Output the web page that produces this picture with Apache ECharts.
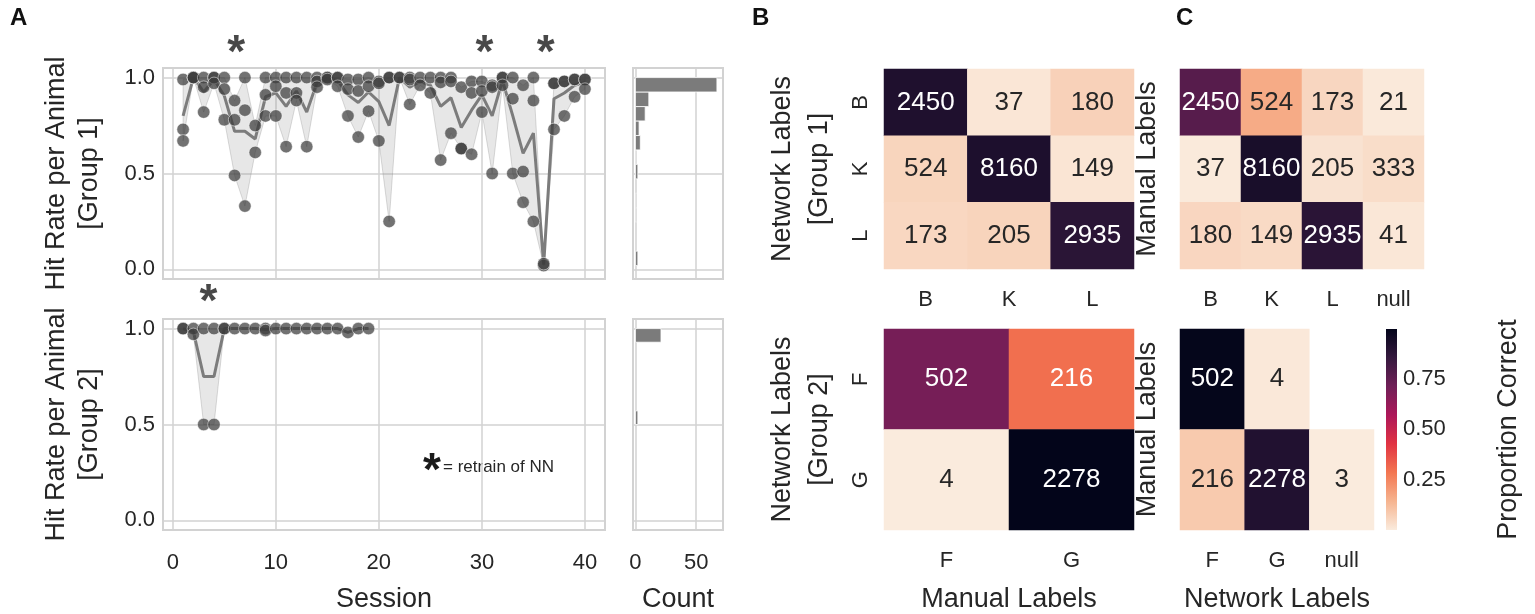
<!DOCTYPE html>
<html><head><meta charset="utf-8">
<script src="https://cdn.jsdelivr.net/npm/echarts@6/dist/echarts.min.js"></script>
<style>html,body{margin:0;padding:0;background:#fff}#c{width:1535px;height:614px}</style>
</head><body><div id="c"></div>
<script>
// ---------- DATA ----------
const sessionsTop = [1,2,3,4,5,6,7,8,9,10,11,12,13,14,15,16,17,18,19,20,21,22,23,24,25,26,27,28,29,30,31,32,33,34,35,36,37,38,39,40];
const hitTop = [
 [0.99,0.73,0.67],[1,1,1],[1,0.95,0.82],[1,1,0.97],[1,0.94,0.78],
 [0.88,0.78,0.49],[1,0.83,0.33],[0.75,0.61],[1,0.91,0.80],[1,0.955,0.80],
 [1,0.92,0.64],[1,0.92,0.88],[1,0.64],[1,0.98,0.95],[1,1,0.99],
 [1,1,0.955],[0.99,0.94,0.80],[0.99,0.93,0.69],[1,0.955,0.825],[0.98,0.97,0.67],
 [1,1,0.25],[1,1],[1,0.99,0.86],[1,0.96],[1,0.92],
 [1,0.975,0.57],[1,0.98,0.71],[0.95,0.63,0.63],[0.98,0.92,0.60],[0.98,0.93,0.82],
 [0.96,0.95,0.50],[1,1,0.96],[1,0.89,0.50],[0.96,0.51,0.35],[1,0.88,0.25],
 [0.02,0.03],[0.97,0.97,0.73],[0.98,0.98,0.80],[0.99,0.99,0.90],[0.99,0.99,0.94]
];
const meanTop = [0.80,1.0,0.925,0.99,0.905,0.72,0.72,0.68,0.90,0.92,0.85,0.93,0.82,0.975,0.995,0.985,0.91,0.87,0.925,0.875,
 0.75,1.0,0.95,0.98,0.96,0.85,0.895,0.74,0.83,0.91,0.80,0.985,0.80,0.605,0.71,0.025,0.89,0.92,0.96,0.975];
const sessionsBottom = [1,2,3,4,5,6,7,8,9,10,11,12,13,14,15,16,17,18,19];
const hitBottom = [[1,1],[1,0.97],[1,0.5],[1,0.5],[1,1],[1],[1],[1],[1,0.99],[1],[1],[1],[1],[1],[1],[1],[0.98],[1],[1]];
const meanBottom = [1,0.985,0.75,0.75,1,1,1,1,0.995,1,1,1,1,1,1,1,0.98,1,1];
const starsTop = [6.15, 30.25, 36.2];
const starsBottom = [3.46];

const histTopLow  = [0.020,0.095,0.171,0.246,0.322,0.397,0.472,0.548,0.623,0.698,0.774,0.849,0.925];
const histTopHigh = [0.095,0.171,0.246,0.322,0.397,0.472,0.548,0.623,0.698,0.774,0.849,0.925,1.000];
const histTopCount = [2,0,0,1,1,0,2,1,4,3,8,11,67];
const histBotLow  = [0.500,0.571,0.643,0.714,0.786,0.857,0.929];
const histBotHigh = [0.571,0.643,0.714,0.786,0.857,0.929,1.000];
const histBotCount = [2,0,0,0,0,0,21];

const sessionTicks = [0,10,20,30,40];
const hitTicks = [0,0.5,1.0];
const countTicks = [0,50];
const cbarTicks = [0.25,0.5,0.75];

const catB1x = ['B','K','L'], catB1y = ['B','K','L'];
const countsB1 = [[2450,37,180],[524,8160,149],[173,205,2935]];
const catC1x = ['B','K','L','null'], catC1y = ['B','K','L'];
const countsC1 = [[2450,524,173,21],[37,8160,205,333],[180,149,2935,41]];
const catB2x = ['F','G'], catB2y = ['F','G'];
const countsB2 = [[502,216],[4,2278]];
const catC2x = ['F','G','null'], catC2y = ['F','G'];
const countsC2 = [[502,4,null],[216,2278,3]];

const rocketR = ['#FAEBDD','#F6B48F','#F37651','#E13342','#AD1759','#701F57','#35193E','#03051A'];
const propMin = 0.0012, propMax = 0.998;

// ---------- BUILD ----------
const FONT = "'Liberation Sans', Arial, Helvetica, sans-serif";
const TXT = '#262626';
const GRIDC = '#d2d2d2';
const TICK = 22, TITLE = 27, ANNOT = 26;

function flat(sessions, hits){ const out=[]; sessions.forEach((s,i)=>hits[i].forEach(v=>out.push([s,v]))); return out; }

function bandSeries(ai, sessions, hits){
  const lows = hits.map(a=>Math.min.apply(null,a)), highs = hits.map(a=>Math.max.apply(null,a));
  return {type:'custom', xAxisIndex:ai, yAxisIndex:ai, silent:true, z:1,
    data: sessions.map((s,i)=>[s,lows[i],highs[i]]), encode:{x:0,y:[1,2]},
    renderItem(params, api){
      if(params.dataIndex!==0) return null;
      const up = sessions.map((s,i)=>api.coord([s,highs[i]]));
      const dn = sessions.map((s,i)=>api.coord([s,lows[i]])).reverse();
      return {type:'polygon', shape:{points:up.concat(dn)},
        style:{fill:'rgba(135,135,135,0.2)', stroke:'rgba(135,135,135,0.3)', lineWidth:1}};
    }};
}
function lineSeries(ai, sessions, mean){
  return {type:'line', xAxisIndex:ai, yAxisIndex:ai, data: sessions.map((s,i)=>[s,mean[i]]),
    symbol:'none', silent:true, z:3, lineStyle:{color:'#7c7c7c', width:3}};
}
function scatterSeries(ai, sessions, hits){
  return {type:'scatter', xAxisIndex:ai, yAxisIndex:ai, data: flat(sessions,hits), symbolSize:12.5, clip:false, silent:true, z:4,
    itemStyle:{color:'#3c3c3c', opacity:0.72, borderColor:'#ffffff', borderWidth:0.7}};
}
function starSeries(ai, xs, y){
  return {type:'scatter', xAxisIndex:ai, yAxisIndex:ai, data: xs.map(x=>[x,y]), symbolSize:2, clip:false, silent:true, z:5,
    itemStyle:{color:'rgba(0,0,0,0)'},
    label:{show:true, position:'inside', formatter:'*', fontSize:46, fontWeight:'bold', color:'#1a1a1a', fontFamily:FONT}};
}
function histSeries(ai, lo, hi, counts){
  return {type:'custom', xAxisIndex:ai, yAxisIndex:ai, silent:true, z:2,
    data: counts.map((c,i)=>[lo[i],hi[i],c]), encode:{x:2,y:[0,1]},
    renderItem(params, api){
      if(!api.value(2)) return null;
      const a = api.coord([0, api.value(1)]), b = api.coord([api.value(2), api.value(0)]);
      return {type:'rect', shape:{x:a[0], y:a[1], width:b[0]-a[0], height:b[1]-a[1]},
        style:{fill:'#7b7b7b', stroke:'#ffffff', lineWidth:0.8}};
    }};
}
function heatSeries(ai, counts){
  const data = [];
  counts.forEach((row,r)=>{
    const tot = row.reduce((s,v)=>s+(v==null?0:v),0);
    row.forEach((v,c)=>{
      if(v==null) return;
      const p = v/tot;
      data.push({value:[c,r,p,v], label:{color: p>0.25 ? '#ffffff' : TXT}});
    });
  });
  return {type:'heatmap', xAxisIndex:ai, yAxisIndex:ai, data, silent:true,
    label:{show:true, fontSize:ANNOT, fontFamily:FONT, formatter:p=>String(p.data.value[3])},
    itemStyle:{borderWidth:0}, emphasis:{disabled:true}};
}

const gridBox = {show:true, borderColor:GRIDC, borderWidth:2, backgroundColor:'#fff'};
const hidden = {show:false};
function valX(gi, min, max, ticks, labels, name){
  return {type:'value', gridIndex:gi, min, max,
    axisLine:hidden, axisTick:{show:false, customValues:ticks},
    axisLabel:{show:labels, customValues:ticks, fontSize:TICK, color:TXT, margin:22, fontFamily:FONT},
    splitLine:{show:true, lineStyle:{color:GRIDC, width:1.5}},
    name: name||'', nameLocation:'middle', nameGap:56, nameTextStyle:{fontSize:TITLE, color:TXT, fontFamily:FONT}};
}
function valY(gi, labels, name){
  return {type:'value', gridIndex:gi, min:-0.05, max:1.05,
    axisLine:hidden, axisTick:{show:false, customValues:hitTicks},
    axisLabel:{show:labels, customValues:hitTicks, fontSize:TICK, color:TXT, margin:8, fontFamily:FONT, formatter:v=>v.toFixed(1)},
    splitLine:{show:true, lineStyle:{color:GRIDC, width:1.5}},
    name: name||'', nameLocation:'middle', nameRotate:90, nameGap:57,
    nameTextStyle:{fontSize:TITLE, color:TXT, lineHeight:33, fontFamily:FONT}};
}
function catX(gi, cats, name){
  return {type:'category', gridIndex:gi, data:cats, axisLine:hidden, axisTick:hidden, splitLine:hidden,
    axisLabel:{fontSize:TICK, color:TXT, margin:20, fontFamily:FONT},
    name:name||'', nameLocation:'middle', nameGap:56, nameTextStyle:{fontSize:TITLE, color:TXT, fontFamily:FONT}};
}
function catY(gi, cats, labels, name, gap){
  return {type:'category', gridIndex:gi, data:cats, inverse:true, axisLine:hidden, axisTick:hidden, splitLine:hidden,
    axisLabel:{show:labels, rotate:90, fontSize:TICK, color:TXT, margin:12, fontFamily:FONT},
    name:name||'', nameLocation:'middle', nameRotate:90, nameGap:gap,
    nameTextStyle:{fontSize:TITLE, color:TXT, lineHeight:37, fontFamily:FONT}};
}

const series = [
  bandSeries(0, sessionsTop, hitTop), lineSeries(0, sessionsTop, meanTop), scatterSeries(0, sessionsTop, hitTop), starSeries(0, starsTop, 1.12),
  histSeries(1, histTopLow, histTopHigh, histTopCount),
  bandSeries(2, sessionsBottom, hitBottom), lineSeries(2, sessionsBottom, meanBottom), scatterSeries(2, sessionsBottom, hitBottom), starSeries(2, starsBottom, 1.13),
  histSeries(3, histBotLow, histBotHigh, histBotCount)
];
const hmStart = series.length;
series.push(heatSeries(4, countsB1), heatSeries(5, countsC1), heatSeries(6, countsB2), heatSeries(7, countsC2));
const cbarStops = rocketR.map((c,i)=>({offset:1-i/(rocketR.length-1), color:c}));
series.push({type:'custom', xAxisIndex:8, yAxisIndex:8, silent:true, data:[[0,propMin]],
  renderItem(params, api){
    const a = api.coord([0, propMax]), b = api.coord([1, propMin]);
    return {type:'rect', shape:{x:a[0], y:a[1], width:b[0]-a[0], height:b[1]-a[1]},
      style:{fill:new echarts.graphic.LinearGradient(0,0,0,1,cbarStops.slice().reverse())}};
  }});

const option = {
  animation:false,
  textStyle:{fontFamily:FONT},
  grid:[
    Object.assign({left:163, top:68, width:442, height:211}, gridBox),
    Object.assign({left:633, top:68, width:90, height:211}, gridBox),
    Object.assign({left:163, top:319, width:442, height:212}, gridBox),
    Object.assign({left:633, top:319, width:90, height:212}, gridBox),
    {left:884, top:69, width:250, height:200},
    {left:1180, top:69, width:244, height:200},
    {left:884, top:329, width:250, height:201},
    {left:1180, top:329, width:194, height:201},
    {left:1386, top:329, width:11, height:201}
  ],
  xAxis:[
    valX(0, -0.95, 41.95, sessionTicks, false),
    valX(1, -2, 72, countTicks, false),
    valX(2, -0.95, 41.95, sessionTicks, true, 'Session'),
    valX(3, -2, 72, countTicks, true, 'Count'),
    catX(4, catB1x), catX(5, catC1x),
    catX(6, catB2x, 'Manual Labels'), catX(7, catC2x, 'Network Labels'),
    {type:'value', gridIndex:8, min:0, max:1, show:false}
  ],
  yAxis:[
    valY(0, true, 'Hit Rate per Animal\n[Group 1]'),
    valY(1, false),
    valY(2, true, 'Hit Rate per Animal\n[Group 2]'),
    valY(3, false),
    catY(4, catB1y, true, 'Network Labels\n[Group 1]', 46),
    catY(5, catC1y, false, 'Manual Labels', 14),
    catY(6, catB2y, true, 'Network Labels\n[Group 2]', 46),
    catY(7, catC2y, false, 'Manual Labels', 14),
    {type:'value', gridIndex:8, min:propMin, max:propMax, position:'right',
      axisLine:hidden, splitLine:hidden,
      axisTick:{show:true, length:7, customValues:cbarTicks, lineStyle:{color:'#222', width:2}},
      axisLabel:{customValues:cbarTicks, fontSize:TICK, color:TXT, margin:6, fontFamily:FONT, formatter:v=>v.toFixed(2)},
      name:'Proportion Correct', nameLocation:'middle', nameRotate:90, nameGap:98,
      nameTextStyle:{fontSize:TITLE, color:TXT, fontFamily:FONT}}
  ],
  visualMap:[{type:'continuous', show:false, min:propMin, max:propMax, dimension:2,
    seriesIndex:[hmStart, hmStart+1, hmStart+2, hmStart+3], inRange:{color:rocketR}}],
  graphic:[
    {type:'text', left:10, top:6, style:{text:'A', fontSize:24, fontWeight:'bold', fill:'#111', fontFamily:FONT}},
    {type:'text', left:752, top:6, style:{text:'B', fontSize:24, fontWeight:'bold', fill:'#111', fontFamily:FONT}},
    {type:'text', left:1176, top:6, style:{text:'C', fontSize:24, fontWeight:'bold', fill:'#111', fontFamily:FONT}},
    {type:'text', x:432, y:472, style:{text:'*', fontSize:46, fontWeight:'bold', fill:'#1a1a1a', fontFamily:FONT, align:'center', verticalAlign:'middle'}},
    {type:'text', x:443, y:467, style:{text:'= retrain of NN', fontSize:17, fill:TXT, fontFamily:FONT, align:'left', verticalAlign:'middle'}}
  ],
  series
};
const chart = echarts.init(document.getElementById('c'));
chart.setOption(option);
</script></body></html>
